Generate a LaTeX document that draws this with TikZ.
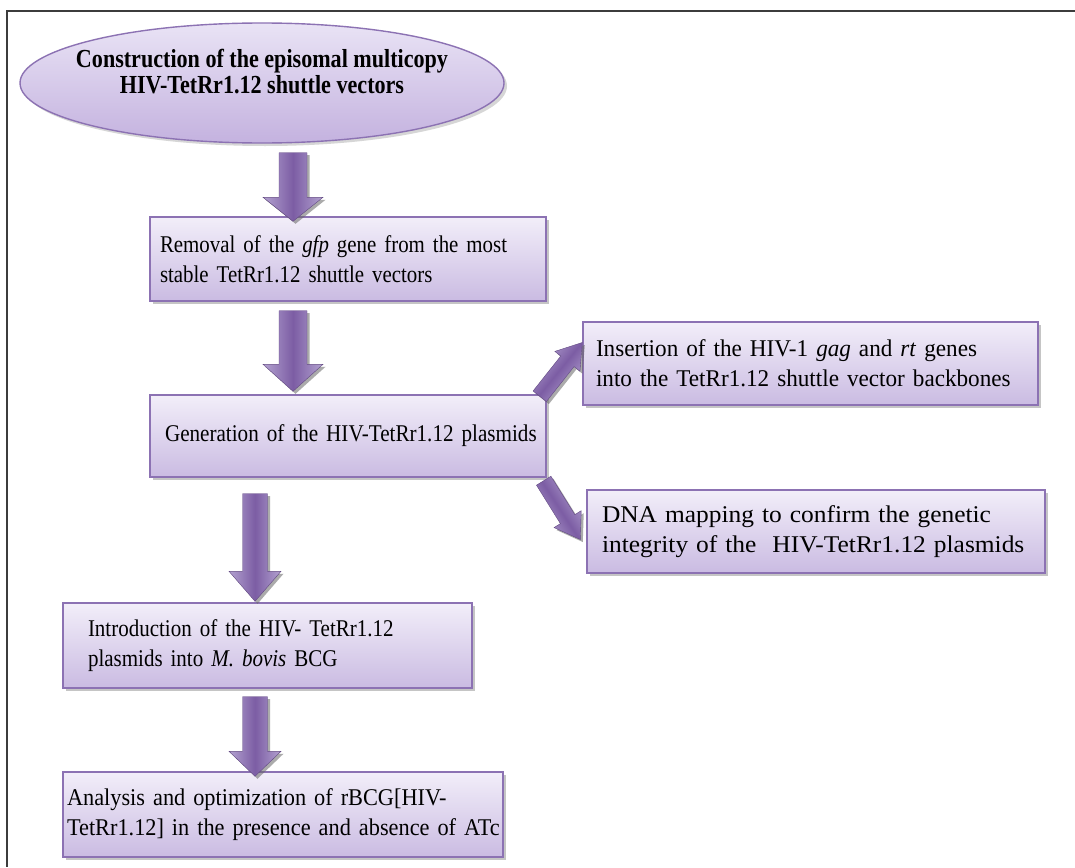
\documentclass[tikz,border=0pt]{standalone}
\usepackage{fontspec}
\setmainfont{Liberation Serif}[FakeStretch=0.87]
\newfontfamily\fA{Liberation Serif}[FakeStretch=0.87]
\newfontfamily\fB{Liberation Serif}[FakeStretch=0.88]
\newfontfamily\fC{Liberation Serif}[FakeStretch=0.965]
\newfontfamily\fD{Liberation Serif}[FakeStretch=1.06]
\newfontfamily\fF{Liberation Serif}[FakeStretch=0.875]
\newfontfamily\fG{Liberation Serif}[FakeStretch=0.93]
\newfontfamily\fE{Liberation Serif}[FakeStretch=0.85]
\usetikzlibrary{shapes.geometric,shadows,calc}
\definecolor{boxtop}{HTML}{F2EEF9}
\definecolor{boxbot}{HTML}{CABBE2}
\definecolor{boxborder}{HTML}{8C72B3}
\definecolor{elltop}{HTML}{E9E3F5}
\definecolor{ellbot}{HTML}{C4B2DF}
\definecolor{arredge}{HTML}{B3A2D0}
\definecolor{arrmid}{HTML}{7C5DA4}
\definecolor{frameline}{HTML}{3C3C3C}
\tikzset{
  box/.style={rectangle, draw=boxborder, line width=1.4pt, top color=boxtop, bottom color=boxbot,
    align=left, inner ysep=0pt,
    drop shadow={shadow xshift=3pt, shadow yshift=-3pt, fill=black!45, opacity=0.5}},
  ellbox/.style={ellipse, draw=boxborder, line width=1.4pt, top color=elltop, bottom color=ellbot,
    inner sep=0pt,
    drop shadow={shadow xshift=3pt, shadow yshift=-3pt, fill=black!40, opacity=0.4}},
  blk/.style={left color=arredge, right color=arredge, middle color=arrmid, draw=arrmid!80!black, line width=0.4pt,
    drop shadow={shadow xshift=2.5pt, shadow yshift=-2.5pt, fill=black!60, opacity=0.55}},
  txt/.style={align=center, inner sep=0pt, font=\fE\fontsize{26}{26}\selectfont\bfseries}
}
% #1 start coord, #2 end coord, #3 shaft half-width, #4 head half-width, #5 head length, #6 shading angle
\newcommand\blkarrow[6]{%
  \coordinate (hh) at ($(#2)!#5!(#1)$);
  \path[blk, shading angle=#6]
    ($(#1)!#3!90:(#2)$) -- ($(hh)!#3!90:(#2)$) -- ($(hh)!#4!90:(#2)$) -- (#2)
    -- ($(hh)!#4!-90:(#2)$) -- ($(hh)!#3!-90:(#2)$) -- ($(#1)!#3!-90:(#2)$) -- cycle;
}
\begin{document}
\begin{tikzpicture}[x=1pt,y=-1pt]
\useasboundingbox (0,0) rectangle (1075,867);
\fill[white] (0,0) rectangle (1075,867);
% frame
\draw[frameline, line width=2.5pt] (1075,11) -- (7,11) -- (7,867);

% ellipse
\node[ellbox, minimum width=484pt, minimum height=120pt] (ell) at (262,83) {};
\node[txt] (ellt) at (262,72) {Construction of the episomal multicopy\\HIV-TetRr1.12 shuttle vectors};

% boxes
\node[box, font=\fA\fontsize{24}{30}\selectfont, minimum width=396pt, minimum height=84pt, inner xsep=10pt, text width=376pt] (b1) at (348,259)
  {Removal of the \textit{gfp} gene from the most\\stable TetRr1.12 shuttle vectors};
\node[box, font=\fB\fontsize{24}{30}\selectfont, minimum width=396pt, minimum height=82pt, inner xsep=15pt, text width=366pt] (b2) at (348,436)
  {\mbox{Generation of the HIV-TetRr1.12 plasmids}};
\node[box, font=\fC\fontsize{24}{30}\selectfont, minimum width=455pt, minimum height=83pt, inner xsep=13pt, text width=429pt] (b3) at (810.5,363.5)
  {\mbox{Insertion of the HIV-1 \textit{gag} and \textit{rt} genes}\\\mbox{into the TetRr1.12 shuttle vector backbones}};
\node[box, font=\fD\fontsize{24}{30}\selectfont, minimum width=458pt, minimum height=83pt, inner xsep=15pt, text width=428pt] (b4) at (816,531.5)
  {\mbox{DNA mapping to confirm the genetic}\\\mbox{integrity of the\ \ HIV-TetRr1.12 plasmids}};
\node[box, font=\fF\fontsize{24}{30}\selectfont, minimum width=409pt, minimum height=85pt, inner xsep=25pt, text width=359pt] (b5) at (267.5,645.5)
  {\mbox{Introduction of the HIV- TetRr1.12}\\\mbox{plasmids into \textit{M. bovis} BCG}};
\node[box, font=\fG\fontsize{24}{30}\selectfont, minimum width=440pt, minimum height=85pt, inner xsep=4pt, text width=432pt] (b6) at (283,814.5)
  {\mbox{Analysis and optimization of rBCG[HIV-}\\\mbox{TetRr1.12] in the presence and absence of ATc}};

% block-arrow connectors
\coordinate (a1s) at ($(ell.south)+(31,9)$);
\coordinate (a1e) at ($(b1.north)+(-55,5)$);
\blkarrow{a1s}{a1e}{14pt}{30pt}{24pt}{90}
\coordinate (a2s) at ($(b1.south)+(-55,9)$);
\coordinate (a2e) at ($(b2.north)+(-55,-3)$);
\blkarrow{a2s}{a2e}{14pt}{30pt}{27pt}{90}
\coordinate (a3s) at ($(b2.south)+(-93,16)$);
\coordinate (a3e) at ($(b5.north)+(-12.5,-1)$);
\blkarrow{a3s}{a3e}{12.5pt}{26pt}{30pt}{90}
\coordinate (a4s) at ($(b5.south)+(-12.5,8)$);
\coordinate (a4e) at ($(b6.north)+(-28,5)$);
\blkarrow{a4s}{a4e}{12.5pt}{26pt}{25pt}{90}
\coordinate (a5s) at ($(b2.north east)+(-7,2)$);
\coordinate (a5e) at ($(b3.west)+(0,-21)$);
\blkarrow{a5s}{a5e}{8.5pt}{16pt}{24pt}{51}
\coordinate (a6s) at ($(b2.south east)+(-3,3)$);
\coordinate (a6e) at ($(b4.west)+(-6,8)$);
\blkarrow{a6s}{a6e}{8.5pt}{16pt}{24pt}{123}
\end{tikzpicture}
\end{document}
